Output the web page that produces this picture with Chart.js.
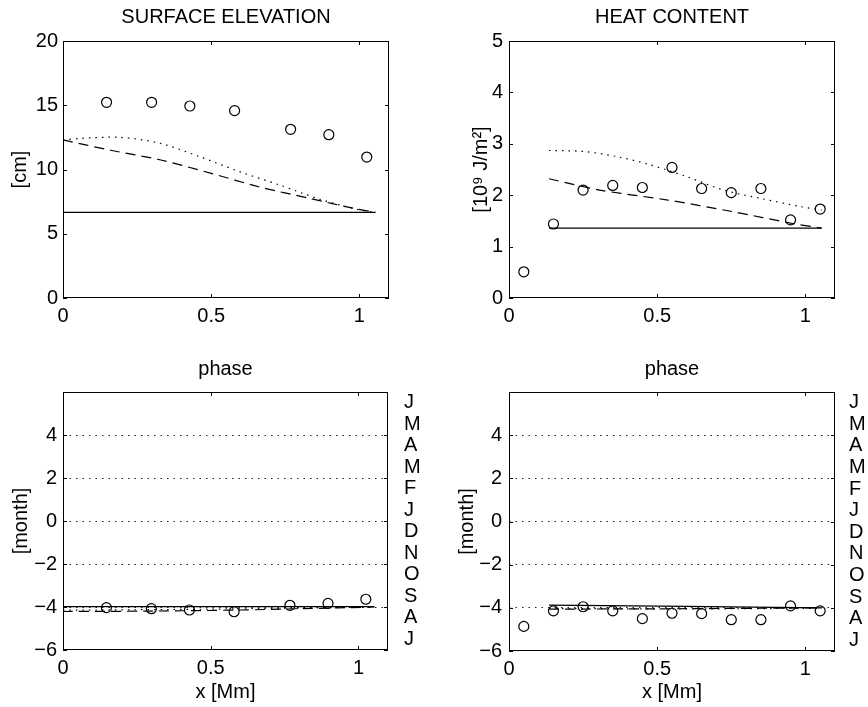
<!DOCTYPE html>
<html>
<head>
<meta charset="utf-8">
<title>Surface elevation and heat content</title>
<script src="https://cdn.jsdelivr.net/npm/chart.js@4.4.1/dist/chart.umd.min.js"></script>
<style>
    body { margin: 0; background: #fff; width: 868px; height: 707px; position: relative; }
    canvas { position: absolute; display: block; }
</style>
</head>
<body>
<canvas id="elev-chart" width="434" height="340" style="left:0;top:0"></canvas>
<canvas id="heat-chart" width="434" height="340" style="left:434px;top:0"></canvas>
<canvas id="elev-phase-chart" width="434" height="367" style="left:0;top:340px"></canvas>
<canvas id="heat-phase-chart" width="434" height="367" style="left:434px;top:340px"></canvas>
<script>
// values
var xTicks = [0, 0.5, 1];

// surface elevation amplitude
var elevTicks = [0, 5, 10, 15, 20];
var elevObsX = [0.147, 0.299, 0.428, 0.579, 0.768, 0.897, 1.025];
var elevObs = [15.23, 15.23, 14.94, 14.58, 13.13, 12.71, 10.97];
var elevSolidX = [0, 1.054];
var elevSolid = [6.67, 6.67];
var elevDashX = [0, 0.16, 0.33, 0.5, 0.66, 0.83, 0.98, 1.054];
var elevDash = [12.3, 11.5, 10.74, 9.7, 8.66, 7.76, 6.98, 6.67];
var elevDotX = [0, 0.057, 0.192, 0.327, 0.461, 0.596, 0.731, 0.865, 1.0, 1.054];
var elevDot = [12.3, 12.42, 12.5, 12.04, 11.0, 9.83, 8.79, 7.7, 6.85, 6.67];

// heat content amplitude
var heatTicks = [0, 1, 2, 3, 4, 5];
var heatObsX = [0.05, 0.15, 0.25, 0.35, 0.45, 0.55, 0.65, 0.75, 0.85, 0.95, 1.05];
var heatObs = [0.51, 1.44, 2.10, 2.19, 2.15, 2.54, 2.13, 2.05, 2.13, 1.52, 1.73];
var heatSolidX = [0.135, 1.055];
var heatSolid = [1.36, 1.36];
var heatDashX = [0.135, 0.306, 0.531, 0.755, 0.957, 1.055];
var heatDash = [2.32, 2.10, 1.91, 1.68, 1.45, 1.36];
var heatDotX = [0.135, 0.253, 0.365, 0.477, 0.6, 0.724, 0.847, 0.982, 1.055];
var heatDot = [2.87, 2.85, 2.75, 2.59, 2.36, 2.10, 1.94, 1.78, 1.71];

// phase (months)
var phaseTicks = [-6, -4, -2, 0, 2, 4];
var monthPos = [-5.5, -4.5, -3.5, -2.5, -1.5, -0.5, 0.5, 1.5, 2.5, 3.5, 4.5, 5.5];
var monthLabels = ['J', 'A', 'S', 'O', 'N', 'D', 'J', 'F', 'M', 'A', 'M', 'J'];

var elevPhase = [-4.03, -4.08, -4.14, -4.22, -3.92, -3.83, -3.64];
var elevPhaseSolidX = [0, 1.054];
var elevPhaseSolid = [-3.98, -3.98];
var elevPhaseDashX = [0, 0.3, 0.6, 0.8, 1.054];
var elevPhaseDash = [-4.21, -4.19, -4.14, -4.08, -4.0];
var elevPhaseDotX = [0, 0.5, 1.054];
var elevPhaseDot = [-4.15, -4.1, -4.0];

var heatPhase = [-4.86, -4.14, -3.95, -4.14, -4.5, -4.25, -4.27, -4.55, -4.55, -3.91, -4.14];
var heatPhaseSolidX = [0.135, 1.055];
var heatPhaseSolid = [-3.87, -4.0];
var heatPhaseDashX = [0.135, 0.6, 1.055];
var heatPhaseDash = [-4.06, -4.04, -4.0];
var heatPhaseDotX = [0.135, 0.6, 1.055];
var heatPhaseDot = [-4.03, -4.05, -4.02];

Chart.defaults.font.family = "'Liberation Sans', Arial, Helvetica, sans-serif";
Chart.defaults.font.size = 20;
Chart.defaults.color = '#000';

var DASHED = [10, 6];
var DOTTED = [1.5, 5];

function pts(xs, ys) {
    return xs.map(function (x, i) {
        return { x: x, y: ys[i] };
    });
}

function lineSet(xs, ys, dash) {
    return {
        data: pts(xs, ys),
        showLine: true,
        borderColor: '#000',
        borderWidth: 1.2,
        borderDash: dash,
        pointRadius: 0,
        tension: 0.3,
        fill: false
    };
}

function circleSet(xs, ys) {
    return {
        data: pts(xs, ys),
        showLine: false,
        pointStyle: 'circle',
        pointRadius: 5,
        pointBorderWidth: 1.2,
        pointBorderColor: '#000',
        pointBackgroundColor: 'rgba(0,0,0,0)'
    };
}

function minusSign(value) {
    return String(value).replace('-', '\u2212');
}

// matlab style box with inward tick marks
var boxPlugin = {
    id: 'box',
    afterDraw: function (chart) {
        var ctx = chart.ctx;
        var a = chart.chartArea;
        var xs = chart.scales.x;
        var ys = chart.scales.y;
        var len = 4;
        ctx.save();
        ctx.strokeStyle = '#000';
        ctx.lineWidth = 1;
        ctx.setLineDash([]);
        ctx.strokeRect(a.left + 0.5, a.top + 0.5, a.right - a.left - 1, a.bottom - a.top - 1);
        ctx.beginPath();
        xs.ticks.forEach(function (t) {
            var px = Math.round(xs.getPixelForValue(t.value)) + 0.5;
            ctx.moveTo(px, a.bottom);
            ctx.lineTo(px, a.bottom - len);
            ctx.moveTo(px, a.top);
            ctx.lineTo(px, a.top + len);
        });
        ys.ticks.forEach(function (t) {
            var py = Math.round(ys.getPixelForValue(t.value)) + 0.5;
            ctx.moveTo(a.left, py);
            ctx.lineTo(a.left + len, py);
            ctx.moveTo(a.right, py);
            ctx.lineTo(a.right - len, py);
        });
        ctx.stroke();
        ctx.restore();
    }
};

function renderPanel(id, p) {
    var scales = {
        x: {
            type: 'linear',
            min: 0,
            max: 1.1,
            afterBuildTicks: function (axis) {
                axis.ticks = xTicks.map(function (v) { return { value: v }; });
            },
            afterFit: function (axis) { axis.height = p.xHeight; },
            grid: { display: false, drawTicks: false },
            border: { display: false },
            ticks: { padding: 6, maxRotation: 0, autoSkip: false, callback: function (v) { return String(v); } },
            title: { display: !!p.xTitle, text: p.xTitle, padding: { top: 0, bottom: 3 } }
        },
        y: {
            type: 'linear',
            min: p.yMin,
            max: p.yMax,
            afterBuildTicks: function (axis) {
                axis.ticks = p.yTicks.map(function (v) { return { value: v }; });
            },
            afterFit: function (axis) { axis.width = p.yWidth; },
            grid: {
                display: !!p.grid,
                drawTicks: false,
                color: function (c) { return c.tick && c.tick.value === p.yMin ? 'rgba(0,0,0,0)' : '#222'; },
                lineWidth: 1
            },
            border: { display: false, dash: DOTTED },
            ticks: { padding: p.yPad, autoSkip: false, callback: minusSign },
            title: { display: true, text: p.yTitle, padding: { top: p.yTitlePad, bottom: 0 } }
        }
    };
    if (p.months) {
        scales.y2 = {
            type: 'linear',
            position: 'right',
            min: p.yMin,
            max: p.yMax,
            afterBuildTicks: function (axis) {
                axis.ticks = monthPos.map(function (v) { return { value: v }; });
            },
            afterFit: function (axis) { axis.width = p.y2Width; },
            grid: { display: false, drawTicks: false },
            border: { display: false },
            ticks: {
                padding: p.y2Pad,
                autoSkip: false,
                callback: function (value, index) { return monthLabels[index]; }
            }
        };
    }

    return new Chart(document.getElementById(id), {
        type: 'scatter',
        data: { datasets: p.datasets },
        options: {
            responsive: false,
            animation: false,
            events: [],
            layout: { padding: { top: 0, left: 0, bottom: 0, right: p.padRight } },
            scales: scales,
            plugins: {
                legend: { display: false },
                tooltip: { enabled: false },
                title: {
                    display: true,
                    text: p.title,
                    fullSize: false,
                    font: { size: 20, weight: 'normal' },
                    padding: { top: p.titleTop, bottom: p.titleBottom }
                }
            }
        },
        plugins: [boxPlugin]
    });
}

// surface elevation
renderPanel('elev-chart', {
    title: 'SURFACE ELEVATION', titleTop: 5, titleBottom: 12,
    yTitle: '[cm]', yTitlePad: 8, yMin: 0, yMax: 20, yTicks: elevTicks,
    yWidth: 63, yPad: 5, xHeight: 42, padRight: 45,
    datasets: [
        circleSet(elevObsX, elevObs),
        lineSet(elevSolidX, elevSolid, []),
        lineSet(elevDashX, elevDash, DASHED),
        lineSet(elevDotX, elevDot, DOTTED)
    ]
});

// heat content
renderPanel('heat-chart', {
    title: 'HEAT CONTENT', titleTop: 5, titleBottom: 12,
    yTitle: '[10\u2079 J/m\u00B2]', yTitlePad: 35, yMin: 0, yMax: 5, yTicks: heatTicks,
    yWidth: 75, yPad: 6, xHeight: 42, padRight: 33,
    datasets: [
        circleSet(heatObsX, heatObs),
        lineSet(heatSolidX, heatSolid, []),
        lineSet(heatDashX, heatDash, DASHED),
        lineSet(heatDotX, heatDot, DOTTED)
    ]
});

// phase of surface elevation
renderPanel('elev-phase-chart', {
    title: 'phase', titleTop: 17, titleBottom: 11,
    yTitle: '[month]', yTitlePad: 9, yMin: -6, yMax: 6, yTicks: phaseTicks, grid: true,
    yWidth: 63, yPad: 6, xHeight: 57, xTitle: 'x [Mm]', padRight: 0,
    months: true, y2Width: 46, y2Pad: 16,
    datasets: [
        circleSet(elevObsX, elevPhase),
        lineSet(elevPhaseSolidX, elevPhaseSolid, []),
        lineSet(elevPhaseDashX, elevPhaseDash, DASHED),
        lineSet(elevPhaseDotX, elevPhaseDot, DOTTED)
    ]
});

// phase of heat content
renderPanel('heat-phase-chart', {
    title: 'phase', titleTop: 17, titleBottom: 11,
    yTitle: '[month]', yTitlePad: 21, yMin: -6, yMax: 6, yTicks: phaseTicks, grid: true,
    yWidth: 75, yPad: 7, xHeight: 56, xTitle: 'x [Mm]', padRight: 0,
    months: true, y2Width: 33, y2Pad: 14,
    datasets: [
        circleSet(heatObsX, heatPhase),
        lineSet(heatPhaseSolidX, heatPhaseSolid, []),
        lineSet(heatPhaseDashX, heatPhaseDash, DASHED),
        lineSet(heatPhaseDotX, heatPhaseDot, DOTTED)
    ]
});
</script>
</body>
</html>
